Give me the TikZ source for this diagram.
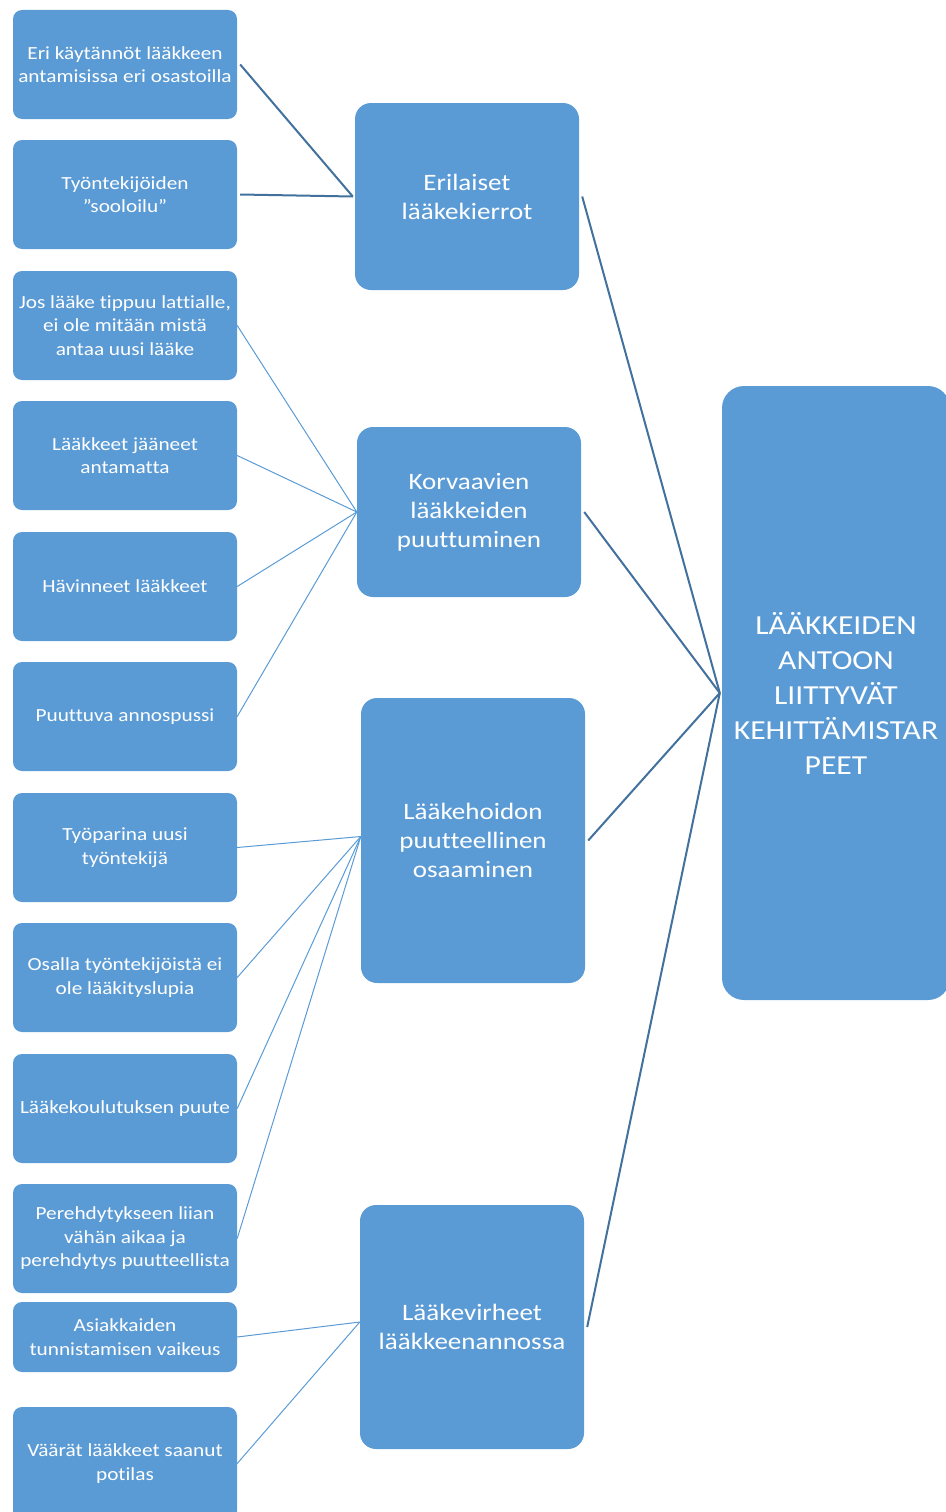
\documentclass[tikz,border=0pt]{standalone}
\usepackage{fontspec}
\setmainfont[FakeStretch=1.15, Ligatures=NoCommon]{Carlito}
\usetikzlibrary{positioning}

\definecolor{boxblue}{HTML}{5B9BD5}
\definecolor{lineblue}{HTML}{41719C}

\begin{document}
\begin{tikzpicture}[
			x=1pt, y=-1pt,
			cause/.style={rectangle, fill=boxblue, rounded corners=9pt, minimum width=224pt, inner sep=0pt, align=center, text=white, font=\fontsize{18.5}{23.5}\selectfont},
			theme/.style={rectangle, fill=boxblue, rounded corners=16pt, minimum width=224pt, inner sep=0pt, align=center, text=white, font=\fontsize{23.5}{29}\selectfont},
			mainbox/.style={rectangle, fill=boxblue, rounded corners=22pt, minimum width=228pt, inner sep=0pt, align=center, text=white, font=\fontsize{27.5}{35}\selectfont},
			thinline/.style={draw=boxblue, line width=1pt},
			thickline/.style={draw=lineblue, line width=2pt}
			]
			\useasboundingbox (0,0) rectangle (945,1512);
			
			% Main topic
			\node[mainbox, minimum height=614pt] (main) at (836,693) {LÄÄKKEIDEN\\ANTOON\\LIITTYVÄT\\KEHITTÄMISTAR\\PEET};
			
			% Themes
			\node[theme, minimum height=187pt] (t1) at (467,196.5) {Erilaiset\\lääkekierrot};
			\node[theme, minimum height=170pt] (t2) at (469,512) {Korvaavien\\lääkkeiden\\puuttuminen};
			\node[theme, minimum height=285pt] (t3) at (473,840.5) {Lääkehoidon\\puutteellinen\\osaaminen};
			\node[theme, minimum height=244pt] (t4) at (472,1327) {Lääkevirheet\\lääkkeenannossa};
			
			% Causes
			\node[cause, minimum height=109pt] (c1) at (125,64.5) {Eri käytännöt lääkkeen\\antamisissa eri osastoilla};
			\node[cause, minimum height=109pt] (c2) at (125,194.5) {Työntekijöiden\\”sooloilu”};
			\node[cause, minimum height=109pt] (c3) at (125,325.5) {Jos lääke tippuu lattialle,\\ei ole mitään mistä\\antaa uusi lääke};
			\node[cause, minimum height=109pt] (c4) at (125,455.5) {Lääkkeet jääneet\\antamatta};
			\node[cause, minimum height=109pt] (c5) at (125,586.5) {Hävinneet lääkkeet};
			\node[cause, minimum height=109pt] (c6) at (125,716.5) {Puuttuva annospussi};
			\node[cause, minimum height=109pt] (c7) at (125,847.5) {Työparina uusi\\työntekijä};
			\node[cause, minimum height=109pt] (c8) at (125,977.5) {Osalla työntekijöistä ei\\ole lääkityslupia};
			\node[cause, minimum height=109pt] (c9) at (125,1108.5) {Lääkekoulutuksen puute};
			\node[cause, minimum height=109pt] (c10) at (125,1238.5) {Perehdytykseen liian\\vähän aikaa ja\\perehdytys puutteellista};
			\node[cause, minimum height=70pt] (c11) at (125,1337) {Asiakkaiden\\tunnistamisen vaikeus};
			\node[cause, minimum height=113pt] (c12) at (125,1463.5) {Väärät lääkkeet saanut\\potilas};
			
			% Themes to main topic
			\draw[thickline] ([xshift=3pt]t1.east) -- ([xshift=-2pt]main.west);
			\draw[thickline] ([xshift=3pt]t2.east) -- ([xshift=-2pt]main.west);
			\draw[thickline] ([xshift=3pt]t3.east) -- ([xshift=-2pt]main.west);
			\draw[thickline] ([xshift=3pt]t4.east) -- ([xshift=-2pt]main.west);
			
			% Causes to themes
			\draw[thickline] ([xshift=3pt]c1.east) -- ([xshift=-2pt]t1.west);
			\draw[thickline] ([xshift=3pt]c2.east) -- ([xshift=-2pt]t1.west);
			\draw[thinline] (c3.east) -- (t2.west);
			\draw[thinline] (c4.east) -- (t2.west);
			\draw[thinline] (c5.east) -- (t2.west);
			\draw[thinline] (c6.east) -- (t2.west);
			\draw[thinline] (c7.east) -- ([yshift=4pt]t3.west);
			\draw[thinline] (c8.east) -- ([yshift=4pt]t3.west);
			\draw[thinline] (c9.east) -- ([yshift=4pt]t3.west);
			\draw[thinline] (c10.east) -- ([yshift=4pt]t3.west);
			\draw[thinline] (c11.east) -- ([yshift=5pt]t4.west);
			\draw[thinline] (c12.east) -- ([yshift=5pt]t4.west);
			
		\end{tikzpicture}
\end{document}
